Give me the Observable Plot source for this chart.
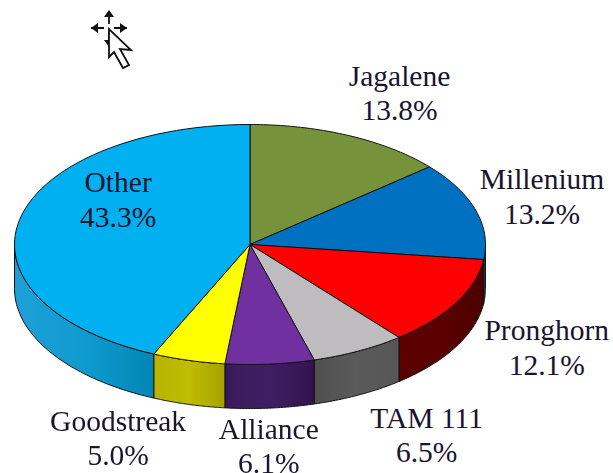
<!DOCTYPE html>
<html><head><meta charset="utf-8">
<script src="https://cdn.jsdelivr.net/npm/d3@7"></script>
<script src="https://cdn.jsdelivr.net/npm/@observablehq/plot@0.6"></script>
<style>html,body{margin:0;padding:0;background:#fff}svg{display:block;filter:blur(.55px)}</style>
</head><body><div id="chart"></div>
<script>
const names = ["Jagalene","Millenium","Pronghorn","TAM 111","Alliance","Goodstreak","Other"];
const shares = [13.8,13.2,12.1,6.5,6.1,5.0,43.3];
const topColors = ["#76933c","#0070c0","#ff0000","#bfbcbf","#7030a0","#ffff00","#00b0f0"];
const wallStops = [
  ["#76933c","#76933c","#76933c"],
  ["#004f88","#004f88","#004f88"],
  ["#5c0000","#5a0000","#4c0000"],
  ["#505050","#5a5a5a","#565656"],
  ["#3a1a5c","#411e63","#32134f"],
  ["#b8b400","#c0bc00","#a5a200"],
  ["#1ea0d6","#109bcf","#0087b4"]
];
// label placement, in pie radii from the centre (layout only)
const labelSpots = {
  "Jagalene":[0.635,-1.27],"Millenium":[1.24,-0.41],"Pronghorn":[1.26,0.85],
  "TAM 111":[0.75,1.58],"Alliance":[0.08,1.67],"Goodstreak":[-0.56,1.605],"Other":[-0.56,-0.385]
};
const depth = 0.367; // wall height in pie radii
const lineGap = 34.5;
const labelSize = 29.5;

const ends = d3.cumsum(shares);
const slices = names.map((name,i)=>({name,share:shares[i],a0:(ends[i]-shares[i])/100*2*Math.PI,a1:ends[i]/100*2*Math.PI,i}));
const arc = (a0,a1) => d3.range(0,61).map(k=>{const a=a0+(a1-a0)*k/60;return [Math.sin(a),-Math.cos(a)];});

const topRows = slices.flatMap(s=>[[0,0],...arc(s.a0,s.a1),[0,0]].map(([x,y])=>({name:s.name,x,y})));
const walls = slices.map(s=>{
  const a0=Math.max(s.a0,Math.PI/2),a1=Math.min(s.a1,3*Math.PI/2);
  if(a1<=a0) return null;
  const t=arc(a0,a1);
  return {...s,rows:[...t.map(([x,y])=>({x,y})),...t.reverse().map(([x,y])=>({x,y:y+depth})),{x:t[t.length-1][0],y:t[t.length-1][1]}]};
}).filter(Boolean);

const defs = () => {
  const ns="http://www.w3.org/2000/svg";
  const d=document.createElementNS(ns,"defs");
  walls.forEach(w=>{
    const g=document.createElementNS(ns,"linearGradient");
    g.setAttribute("id","wall"+w.i);
    wallStops[w.i].forEach((c,k)=>{
      const st=document.createElementNS(ns,"stop");
      st.setAttribute("offset",k/2);st.setAttribute("stop-color",c);g.appendChild(st);
    });
    d.appendChild(g);
  });
  return d;
};
const cursor = () => {
  const ns="http://www.w3.org/2000/svg";
  const g=document.createElementNS(ns,"g");
  const add=(p,fill,stroke,w)=>{const e=document.createElementNS(ns,"path");e.setAttribute("d",p);e.setAttribute("fill",fill);e.setAttribute("stroke",stroke);e.setAttribute("stroke-width",w);g.appendChild(e);};
  add("M109 11V24M91 28H104M114 28H127M109 32V47","none","#111",1.8);
  add("M109 10l-5 7h10zM91 28l7-5v10zM127 28l-7-5v10zM109 47l-5-7h10z","#111","none",0);
  add("M109 29V57L114 52 123 68 129 65 120 49 131 50Z","#fff","#111",1.8);
  return g;
};
const labels = slices.map(s=>({text:s.name+"\n"+s.share.toFixed(1)+"%",x:labelSpots[s.name][0],y:labelSpots[s.name][1]}));

const plot = Plot.plot({
  width:613,height:473,
  marginTop:0,marginRight:0,marginBottom:0,marginLeft:0,
  style:{background:"#fff",overflow:"visible"},
  x:{domain:[-1,1],range:[14,485],axis:null},
  y:{domain:[-1,1],range:[124,364],axis:null},
  color:{domain:names,range:topColors},
  marks:[
    defs,
    ...walls.map(w=>Plot.line(w.rows,{x:"x",y:"y",fill:`url(#wall${w.i})`,stroke:"#111",strokeWidth:1,strokeLinejoin:"round"})),
    Plot.line(topRows,{x:"x",y:"y",z:"name",fill:"name",stroke:"#111",strokeWidth:1,strokeLinejoin:"round"}),
    Plot.text(labels,{x:"x",y:"y",text:"text",lineHeight:lineGap/labelSize,fontSize:labelSize,fontFamily:"Liberation Serif",fill:"#1a1430",textAnchor:"middle"}),
    cursor
  ]
});
document.getElementById("chart").append(plot);
</script></body></html>
